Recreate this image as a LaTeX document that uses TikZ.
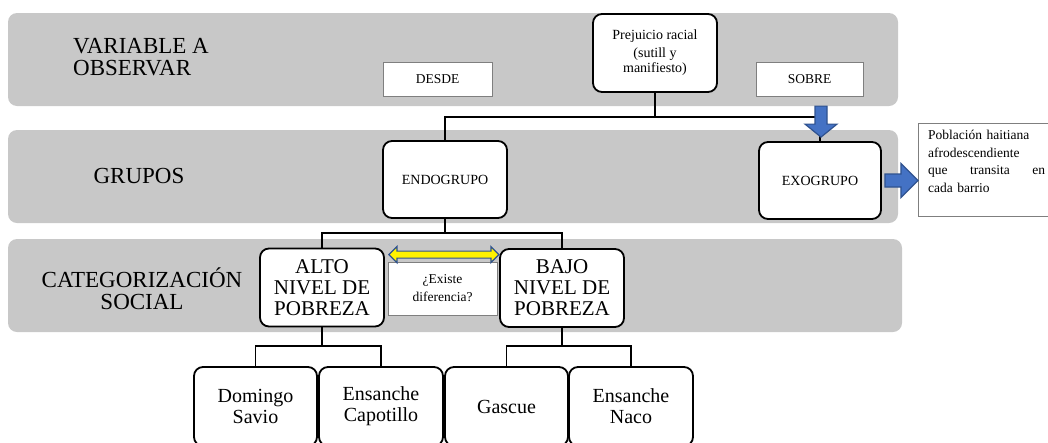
\documentclass[tikz,border=0pt]{standalone}
\usepackage{fontspec}
\setmainfont{Liberation Serif}
\usetikzlibrary{calc, positioning}
\definecolor{bandgray}{HTML}{C8C8C8}
\definecolor{arrowblue}{HTML}{4472C4}
\definecolor{arrowedge}{HTML}{2F528F}
\definecolor{thinedge}{HTML}{7F7F7F}
\tikzset{
  % franjas de fondo
  band/.style={fill=bandgray, rounded corners=9pt, minimum width=890pt, minimum height=93pt, inner sep=0pt},
  band label/.style={inner sep=0pt, font=\fontsize{23}{22}\selectfont},
  % cajas
  box/.style={draw, line width=1.8pt, rounded corners=9pt, fill=white, align=center, inner sep=2pt, minimum width=124pt, minimum height=78pt},
  box big/.style={box, font=\fontsize{21}{21}\selectfont},
  box barrio/.style={box, minimum width=123pt, minimum height=79pt, font=\fontsize{20}{21}\selectfont},
  thin box/.style={draw=thinedge, line width=0.8pt, fill=white, align=center, inner sep=2pt, font=\fontsize{13.5}{18}\selectfont},
  note text/.style={text width=117pt, align=left, inner sep=0pt, font=\fontsize{13.5}{17.5}\selectfont},
  % conectores
  connect/.style={line width=1.8pt},
  block arrow/.style={draw=arrowedge, fill=arrowblue, line width=1.2pt, line join=miter},
  diff arrow/.style={draw=arrowedge, fill=yellow, line width=1.2pt, line join=miter}
}

\begin{document}
\begin{tikzpicture}[x=1pt, y=-1pt]
  \useasboundingbox (0,0) rectangle (1048,442);
  % franjas
  \node[band] (bandvar) at (453,59.5) {};
  \node[band] (bandgrp) at (453,176.5) {};
  \node[band, minimum width=894pt] (bandcat) at (455,285.5) {};
  \node[band label, anchor=west, align=left] (labvar) at (73,57) {VARIABLE A\\OBSERVAR};
  \node[band label] (labgrp) at (139,176) {GRUPOS};
  \node[band label, align=center] (labcat) at (142,289) {CATEGORIZACIÓN\\SOCIAL};

  % variable a observar
  \node[box, font=\fontsize{14}{15}\selectfont] (prej) at (655,53) {Prejuicio racial\\[3pt](sutill y\\manifiesto)};
  \node[thin box, minimum width=109pt, minimum height=34pt] (desde) at (437.5,79) {DESDE};
  \node[thin box, minimum width=107pt, minimum height=34pt] (sobre) at (809.5,79) {SOBRE};

  % grupos
  \node[box, minimum height=77pt, font=\fontsize{14}{15}\selectfont] (endo) at (445,179.5) {ENDOGRUPO};
  \node[box, minimum width=122pt, minimum height=77pt, font=\fontsize{14}{15}\selectfont] (exo) at (820,180.5) {EXOGRUPO};
  \node[draw=thinedge, line width=0.8pt, fill=white, anchor=north west, minimum width=140pt, minimum height=93pt]
        (nota) at (918,123) {};
  \node[note text, anchor=north west] (notatexto) at ($(nota.north west)+(10,7)$)
        {Población haitiana\\afrodescendiente\\que\hfill transita\hfill en\\cada barrio};

  % categorizacion social
  \node[box big] (alto) at (322,287.5) {ALTO\\NIVEL DE\\POBREZA};
  \node[box big] (bajo) at (562,288) {BAJO\\NIVEL DE\\POBREZA};
  \node[thin box, minimum width=109pt, minimum height=53pt] (existe) at (442.5,288.5) {¿Existe\\diferencia?};

  % barrios
  \node[box barrio] (domingo) at (255.5,406.5) {Domingo\\Savio};
  \node[box barrio, minimum width=124pt] (capotillo) at (381,406.5) {Ensanche\\Capotillo};
  \node[box barrio] (gascue) at (506.5,406.5) {Gascue};
  \node[box barrio, minimum width=124pt] (naco) at (631,406.5) {Ensanche\\Naco};

  % conectores
  \coordinate (j1) at (655,117);
  \coordinate (j2) at (445,233);
  \coordinate (j3) at (322,346);
  \coordinate (j4) at (562,346);
  \draw[connect] (prej.south) -- (j1);
  \draw[connect] (endo.north) |- (j1) -| (exo.north);
  \draw[connect] (endo.south) -- (j2);
  \draw[connect] (alto.north) |- (j2) -| (bajo.north);
  \draw[connect] (alto.south) -- (j3);
  \draw[connect] (domingo.north) |- (j3) -| (capotillo.north);
  \draw[connect] (bajo.south) -- (j4);
  \draw[connect] (gascue.north) |- (j4) -| (naco.north);

  % flechas
  \coordinate (tipsobre) at ($(exo.north)+(1,-4)$);
  \coordinate (tipnota) at ($(exo.east)+(36,0)$);
  \coordinate (tipdif) at ($(alto.north east)+(4,7)$);
  \draw[block arrow] (tipsobre) -- ++(-16,-13) -- ++(10,0) -- ++(0,-18) -- ++(12,0) -- ++(0,18)
    -- ++(10,0) -- cycle;
  \draw[block arrow] (tipnota) -- ++(-17,-17) -- ++(0,10.5) -- ++(-16,0) -- ++(0,13) -- ++(16,0)
    -- ++(0,10.5) -- cycle;
  \draw[diff arrow] (tipdif) -- ++(8,-8) -- ++(0,4.5) -- ++(94,0) -- ++(0,-4.5) -- ++(8,8)
    -- ++(-8,8) -- ++(0,-4.5) -- ++(-94,0) -- ++(0,4.5) -- cycle;
\end{tikzpicture}
\end{document}
